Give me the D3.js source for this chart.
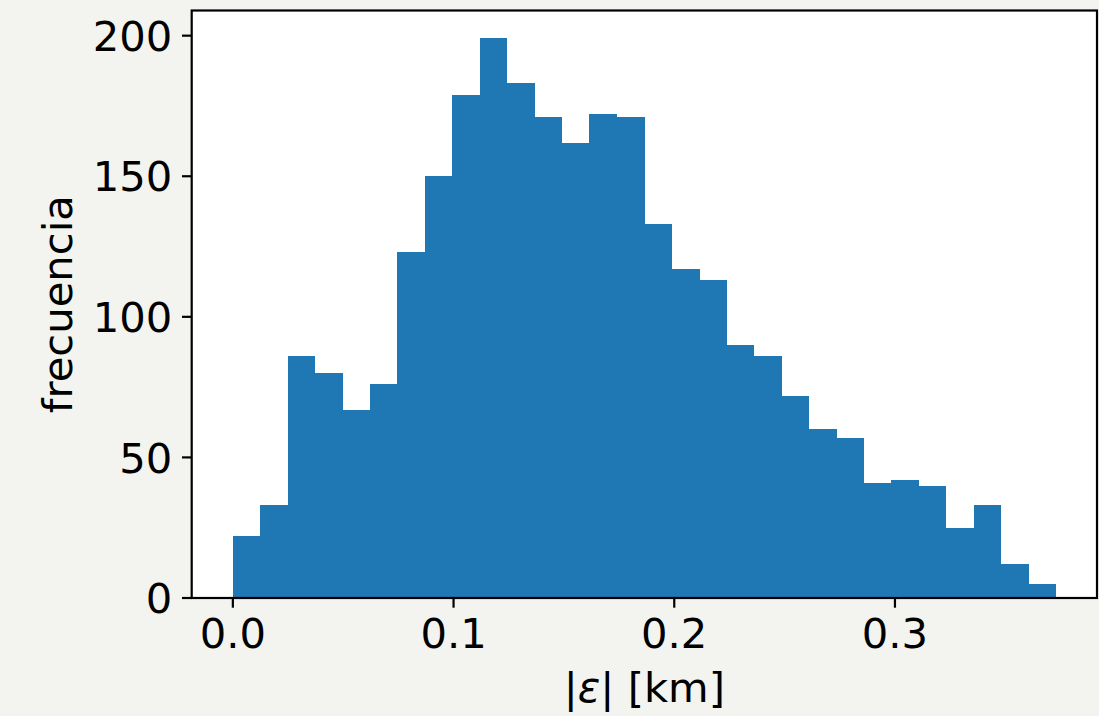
<!DOCTYPE html>
<html>
<head>
<meta charset="utf-8">
<script src="https://cdn.jsdelivr.net/npm/d3@7"></script>
<style>
  html, body { margin: 0; padding: 0; background: #f3f4ef; }
  svg { display: block; }
  text { font-family: "DejaVu Sans", sans-serif; fill: #000; }
</style>
</head>
<body>
<div id="chart"></div>
<script>
// ---- data ----
const counts = [22, 33, 86, 80, 67, 76, 123, 150, 179, 199, 183, 171, 162, 172, 171,
                133, 117, 113, 90, 86, 72, 60, 57, 41, 42, 40, 25, 33, 12, 5];
const binStart = 0.0;
const binEnd = 0.3729;
const xTicks = [0.0, 0.1, 0.2, 0.3];
const xTickLabels = ["0.0", "0.1", "0.2", "0.3"];
const yTicks = [0, 50, 100, 150, 200];
const yTickLabels = ["0", "50", "100", "150", "200"];
const xLabel = ["|", "ε", "| [km]"];
const yLabel = "frecuencia";

// ---- layout ----
const W = 1099, H = 716;
const mL = 191.7, mR = 1097, mT = 10.5, mB = 598;
const fontSize = 41.7;

const svg = d3.select("#chart").append("svg").attr("width", W).attr("height", H);
svg.append("rect").attr("width", W).attr("height", H).attr("fill", "#f3f4ef");

const nb = counts.length;
const bw = (binEnd - binStart) / nb;
const bins = counts.map((c, i) => ({ x0: binStart + i * bw, x1: binStart + (i + 1) * bw, c }));

const span = binEnd - binStart;
const x = d3.scaleLinear().domain([binStart - 0.05 * span, binEnd + 0.05 * span]).range([mL, mR]);
const yMax = d3.max(counts) * 1.05;
const y = d3.scaleLinear().domain([0, yMax]).range([mB, mT]);

// plot background
svg.append("rect").attr("x", mL).attr("y", mT).attr("width", mR - mL).attr("height", mB - mT).attr("fill", "#ffffff");

// bars
svg.append("g").selectAll("rect").data(bins).join("rect")
  .attr("x", d => x(d.x0))
  .attr("width", d => x(d.x1) - x(d.x0) + 0.3)
  .attr("y", d => y(d.c))
  .attr("height", d => y(0) - y(d.c))
  .attr("fill", "#1f77b4")
  .attr("shape-rendering", "crispEdges");

// frame
svg.append("rect").attr("x", mL).attr("y", mT).attr("width", mR - mL).attr("height", mB - mT)
  .attr("fill", "none").attr("stroke", "#000").attr("stroke-width", 2.2);

// x axis ticks
const tickLen = 9.7, pad = 9.7;
const xg = svg.append("g");
xTicks.forEach((t, i) => {
  xg.append("line").attr("x1", x(t)).attr("x2", x(t)).attr("y1", mB).attr("y2", mB + tickLen)
    .attr("stroke", "#000").attr("stroke-width", 2.2);
  xg.append("text").attr("x", x(t)).attr("y", mB + tickLen + pad + fontSize * 0.74)
    .attr("text-anchor", "middle").attr("font-size", fontSize).text(xTickLabels[i]);
});

// y axis ticks
const yg = svg.append("g");
yTicks.forEach((t, i) => {
  yg.append("line").attr("x1", mL - tickLen).attr("x2", mL).attr("y1", y(t)).attr("y2", y(t))
    .attr("stroke", "#000").attr("stroke-width", 2.2);
  yg.append("text").attr("x", mL - tickLen - pad).attr("y", y(t) + fontSize * 0.365)
    .attr("text-anchor", "end").attr("font-size", fontSize).text(yTickLabels[i]);
});

// x label
const xl = svg.append("text").attr("x", (mL + mR) / 2).attr("y", 702)
  .attr("text-anchor", "middle").attr("font-size", fontSize);
xl.append("tspan").text(xLabel[0]);
xl.append("tspan").attr("font-style", "italic").text(xLabel[1]);
xl.append("tspan").text(xLabel[2]);

// y label
svg.append("text").attr("transform", `translate(${72},${(mT + mB) / 2}) rotate(-90)`)
  .attr("text-anchor", "middle").attr("font-size", fontSize).text(yLabel);
</script>
</body>
</html>
